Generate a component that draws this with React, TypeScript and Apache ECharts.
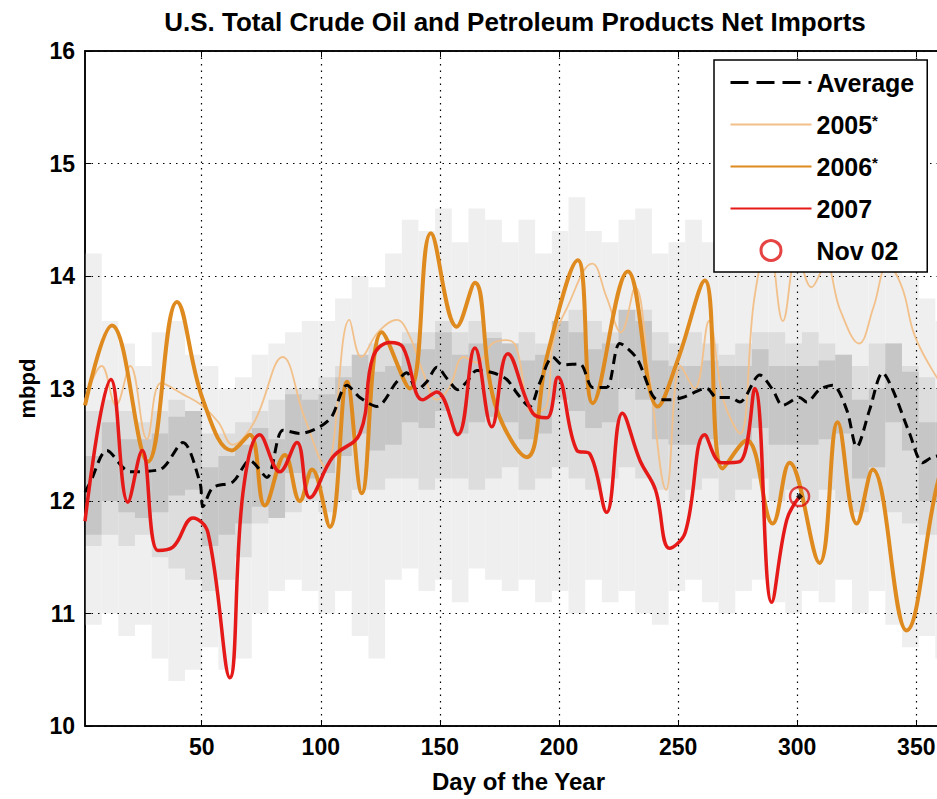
import React, { useEffect, useRef } from "react";
import * as echarts from "echarts";

const FONT = "'Liberation Sans', Arial, Helvetica, sans-serif";

const TITLE = "U.S. Total Crude Oil and Petroleum Products Net Imports";
const xTicks = [50, 100, 150, 200, 250, 300, 350];

// Average (black dashed) [day, mbpd]
const avgData = [
  [1, 12.08], [3.1, 12.16], [10.2, 12.45], [19.9, 12.26], [32.5, 12.28], [42.1, 12.52],
  [49.3, 12.16], [50.5, 11.95], [54.7, 12.12], [63.1, 12.17], [70.2, 12.36], [77.4, 12.21],
  [84.1, 12.63], [91.2, 12.6], [99.6, 12.66], [104.6, 12.75], [111, 13.03], [116.4, 12.92],
  [123.5, 12.84], [131.9, 13.06], [136.1, 13.14], [140.3, 12.99], [144.5, 13.06], [148.7, 13.19],
  [153.3, 13.08], [157.5, 12.99], [161.3, 13.06], [165.5, 13.16], [172.2, 13.14], [178.1, 13.08],
  [182.3, 12.96], [187.7, 12.84], [191.9, 13.05], [197.4, 13.28], [201.6, 13.21], [208.7, 13.22],
  [214.2, 13.01], [220, 13.01], [225.5, 13.4], [232.6, 13.27], [241.5, 12.9], [246.5, 12.9],
  [251.9, 12.92], [262, 13.0], [266.2, 12.92], [271.7, 12.92], [275.9, 12.88], [284.3, 13.12],
  [289.7, 12.99], [293.9, 12.85], [301, 12.92], [304, 12.88], [309.4, 12.99], [314.9, 13.03],
  [320.8, 12.81], [325, 12.48], [330.4, 12.81], [335.9, 13.14], [340.1, 12.99], [347.2, 12.6],
  [352.7, 12.34], [356.8, 12.39], [365, 12.42],
];

// 2005 (thin tan)
const y2005 = [
  [1, 12.9], [8, 13.2], [14, 12.85], [20, 13.2], [27, 12.55], [33, 13.05], [42, 12.95],
  [50, 12.85], [57, 12.7], [63, 12.5], [72, 12.7], [84, 13.28], [93, 12.75], [102, 12.3],
  [112, 13.61], [117, 13.28], [124, 13.5], [131.9, 13.61], [137.4, 13.46], [143, 13.14],
  [148.7, 12.9], [154, 13.01], [160, 13.28], [165.5, 13.23], [172, 13.4], [178, 13.43],
  [182, 13.37], [189, 12.78], [194.9, 12.85], [197.4, 13.4], [203, 13.7], [214, 14.11],
  [220, 13.81], [226, 13.5], [232, 13.9], [238, 13.1], [245, 12.1], [251, 13.2], [257, 13.0],
  [263, 13.6], [269, 12.9], [276, 12.6], [282, 13.8], [288, 14.3], [294, 13.6], [300, 14.2],
  [306, 13.9], [312, 14.1], [318, 13.7], [326, 13.4], [332, 13.72], [338, 14.1], [344, 13.9],
  [349, 13.49], [356, 13.19], [365, 12.9],
];

// 2006 (thick orange)
const y2006 = [
  [1, 12.85], [12.3, 13.56], [27.4, 12.35], [39.6, 13.77], [50.5, 12.9], [62.7, 12.45],
  [70.2, 12.59], [76.5, 11.96], [84.9, 12.41], [91.2, 12.0], [96.3, 12.28], [103.8, 11.77],
  [111, 13.06], [117.2, 12.07], [125.6, 13.5], [137.4, 13.0], [146.2, 14.38], [157.1, 13.55],
  [164.7, 13.94], [173, 12.87], [186.5, 12.39], [194.9, 13.28], [207.9, 14.14], [214.2, 12.87],
  [228.9, 14.04], [241.5, 12.84], [249.8, 13.25], [261.2, 13.96], [268.7, 12.29], [278.8, 12.54],
  [289.7, 11.8], [296.8, 12.34], [309.4, 11.45], [317, 12.7], [325, 11.8], [331.7, 12.28],
  [345.9, 10.85], [358.5, 12.12], [365, 12.6],
];

// 2007 (thick red)
const y2007 = [
  [1, 11.82], [11.9, 13.08], [19, 11.99], [25, 12.45], [31.6, 11.56], [37.9, 11.59],
  [46.3, 11.85], [52.6, 11.72], [61.8, 10.43], [67.3, 12.07], [74.4, 12.59], [82.8, 12.26],
  [90, 12.52], [95.4, 12.03], [105, 12.39], [116.4, 12.6], [121.9, 13.28], [129, 13.41],
  [134.4, 13.37], [142.8, 12.9], [148.7, 12.97], [157.5, 12.59], [164.7, 13.36], [171.8, 12.66],
  [178.5, 13.31], [189, 12.78], [194.9, 12.74], [199.5, 13.1], [207.5, 12.45], [212.9, 12.42],
  [220, 11.9], [226.6, 12.78], [234, 12.36], [240.5, 12.1], [246.4, 11.58], [253, 11.72],
  [261.2, 12.59], [268.3, 12.34], [275.9, 12.35], [282.2, 13.0], [289.3, 11.1], [295.6, 11.83],
  [301, 12.04],
];

const nov02 = [[301, 12.04]];

// Background distribution of past years (weekly columns)
const bandDays = [1, 8, 15, 22, 29, 36, 43, 50, 57, 64, 71, 78, 85, 92, 99, 106, 113, 120, 127, 134, 141, 148, 155, 162, 169, 176, 183, 190, 197, 204, 211, 218, 225, 232, 239, 246, 253, 260, 267, 274, 281, 288, 295, 302, 309, 316, 323, 330, 337, 344, 351, 358];
const outerLo = [10.9, 11.0, 10.8, 10.9, 10.6, 10.4, 10.5, 10.7, 10.5, 10.6, 11.0, 11.2, 11.3, 11.2, 11.0, 11.2, 10.8, 10.6, 11.3, 11.4, 11.2, 11.3, 11.1, 11.4, 11.3, 11.2, 11.3, 11.1, 11.2, 11.0, 11.3, 11.1, 11.2, 11.0, 10.9, 11.2, 11.3, 11.1, 11.0, 11.2, 11.3, 11.1, 11.0, 11.2, 11.1, 11.3, 11.0, 11.2, 10.9, 10.7, 10.8, 10.6];
const outerHi = [14.2, 13.6, 13.4, 13.2, 13.5, 13.6, 13.3, 13.2, 13.0, 13.1, 13.3, 13.4, 13.5, 13.6, 13.6, 13.8, 14.0, 13.9, 14.2, 14.5, 14.4, 14.6, 14.3, 14.6, 14.5, 14.3, 14.5, 14.2, 14.4, 14.7, 14.4, 14.3, 14.5, 14.6, 14.2, 14.3, 14.5, 14.3, 14.1, 14.4, 14.3, 14.5, 14.2, 14.4, 14.6, 14.3, 14.1, 14.4, 14.2, 14.0, 13.8, 13.6];
const innerLo = [11.6, 11.7, 11.6, 11.7, 11.5, 11.4, 11.3, 11.2, 11.3, 11.5, 11.8, 11.9, 11.9, 12.0, 11.9, 12.0, 12.1, 12.1, 12.2, 12.2, 12.1, 12.2, 12.2, 12.1, 12.2, 12.3, 12.1, 12.2, 12.3, 12.2, 12.1, 12.2, 12.3, 12.2, 12.1, 12.0, 12.1, 12.2, 12.0, 12.1, 12.2, 12.0, 12.1, 12.0, 12.1, 12.0, 11.9, 12.0, 11.9, 11.8, 11.7, 11.7];
const innerHi = [12.8, 12.9, 12.8, 12.7, 12.8, 12.9, 12.8, 12.6, 12.6, 12.7, 12.8, 12.9, 13.0, 13.0, 13.1, 13.2, 13.3, 13.4, 13.4, 13.5, 13.5, 13.6, 13.5, 13.6, 13.5, 13.4, 13.5, 13.4, 13.6, 13.7, 13.6, 13.5, 13.6, 13.7, 13.5, 13.4, 13.5, 13.4, 13.3, 13.4, 13.5, 13.5, 13.4, 13.5, 13.4, 13.3, 13.2, 13.4, 13.4, 13.2, 13.1, 13.0];
const coreLo = [11.7, 12.0, 11.9, 11.85, 11.9, 12.05, 12.1, 11.6, 11.7, 11.8, 11.95, 11.85, 12.25, 12.2, 12.25, 12.4, 12.6, 12.45, 12.5, 12.7, 12.65, 12.8, 12.6, 12.7, 12.75, 12.7, 12.55, 12.6, 12.9, 12.8, 12.65, 12.7, 13.0, 12.9, 12.55, 12.5, 12.5, 12.55, 12.5, 12.5, 12.65, 12.5, 12.5, 12.5, 12.55, 12.6, 12.2, 12.3, 12.7, 12.45, 12.0, 12.0];
const coreHi = [12.4, 12.7, 12.55, 12.55, 12.6, 12.75, 12.8, 12.3, 12.4, 12.5, 12.65, 12.55, 12.95, 12.9, 12.95, 13.1, 13.3, 13.15, 13.2, 13.4, 13.35, 13.5, 13.3, 13.4, 13.45, 13.4, 13.25, 13.3, 13.6, 13.5, 13.35, 13.4, 13.7, 13.6, 13.25, 13.2, 13.2, 13.25, 13.2, 13.2, 13.35, 13.2, 13.2, 13.2, 13.25, 13.3, 12.9, 13.0, 13.4, 13.15, 12.7, 12.7];

const BAND_STEP = 7;

function bandSeries(lo: number[], hi: number[], color: string) {
  return {
    type: "custom",
    z: 1,
    silent: true,
    clip: true,
    encode: { x: 0, y: [1, 2] },
    data: bandDays.map((d, i) => [d, lo[i], hi[i]]),
    renderItem: (_p: any, api: any) => {
      const d0 = api.value(0);
      const p1 = api.coord([d0, api.value(2)]);
      const p2 = api.coord([d0 + BAND_STEP, api.value(1)]);
      return {
        type: "rect",
        shape: { x: p1[0], y: p1[1], width: p2[0] - p1[0], height: p2[1] - p1[1] },
        style: { fill: color },
      };
    },
  };
}

const noSymbol = { color: "rgba(0,0,0,0)", borderWidth: 0, opacity: 0 };

export default function App() {
  const ref = useRef<HTMLDivElement>(null);
  useEffect(() => {
    const chart = echarts.init(ref.current!, null, { renderer: "svg" });
    const dotted = { color: "#000", width: 1.2, type: [1.5, 5] as any };
    const option: any = {
      animation: false,
      backgroundColor: "#fff",
      title: {
        text: TITLE,
        left: 510,
        top: 4,
        textAlign: "center",
        textStyle: { fontSize: 26, fontWeight: "bold", fontFamily: FONT, color: "#000" },
      },
      grid: { left: 85, top: 51, width: 867, height: 675, show: true, borderColor: "#000", borderWidth: 1.5, backgroundColor: "transparent" },
      legend: {
        data: [
          { name: "Average", itemStyle: noSymbol, lineStyle: { type: [18, 8], width: 3, color: "#000" } },
          { name: "2005", itemStyle: noSymbol },
          { name: "2006", itemStyle: noSymbol },
          { name: "2007", itemStyle: noSymbol },
          { name: "Nov 02", itemStyle: { color: "transparent", borderColor: "#e01414", borderWidth: 3 } },
        ],
        orient: "vertical",
        left: 714,
        top: 60,
        itemWidth: 81,
        itemHeight: 20,
        itemGap: 17,
        padding: [10, 13, 9, 15],
        backgroundColor: "#fff",
        borderColor: "#000",
        borderWidth: 1.5,
        z: 10,
        formatter: (name: string) => (name === "2005" || name === "2006" ? `{n|${name}}{s|*}` : `{n|${name}}`),
        textStyle: {
          color: "#000",
          fontSize: 25,
          fontWeight: "bold",
          fontFamily: FONT,
          rich: {
            n: { fontSize: 25, fontWeight: "bold", fontFamily: FONT, lineHeight: 24, color: "#000" },
            s: { fontSize: 15, fontWeight: "bold", fontFamily: FONT, verticalAlign: "top", lineHeight: 12, color: "#000" },
          },
        },
      },
      xAxis: [
        {
          type: "value",
          min: 1,
          max: 365,
          z: 2,
          name: "Day of the Year",
          nameLocation: "middle",
          nameGap: 43,
          nameTextStyle: { fontSize: 24, fontWeight: "bold", fontFamily: FONT, color: "#000" },
          axisLine: { show: true, lineStyle: { color: "#000", width: 1.5 } },
          axisTick: { show: true, inside: true, length: 6, customValues: xTicks, lineStyle: { color: "#000" } },
          axisLabel: { customValues: xTicks, fontSize: 23, fontWeight: "bold", fontFamily: FONT, color: "#000", margin: 9 },
          splitLine: { show: true, lineStyle: dotted },
        },
        {
          type: "value",
          position: "top",
          min: 1,
          max: 365,
          z: 2,
          axisLine: { show: true, onZero: false, lineStyle: { color: "#000", width: 1.5 } },
          axisTick: { show: true, inside: true, length: 6, customValues: xTicks, lineStyle: { color: "#000" } },
          axisLabel: { show: false },
          splitLine: { show: false },
        },
      ],
      yAxis: {
        type: "value",
        min: 10,
        max: 16,
        interval: 1,
        z: 2,
        name: "mbpd",
        nameLocation: "middle",
        nameGap: 44,
        nameTextStyle: { fontSize: 22, fontWeight: "bold", fontFamily: FONT, color: "#000" },
        axisLine: { show: true, lineStyle: { color: "#000", width: 1.5 } },
        axisTick: { show: true, inside: true, length: 6, lineStyle: { color: "#000" } },
        axisLabel: { fontSize: 23, fontWeight: "bold", fontFamily: FONT, color: "#000", margin: 10 },
        splitLine: { show: true, lineStyle: dotted },
      },
      series: [
        bandSeries(outerLo, outerHi, "#efefef"),
        bandSeries(innerLo, innerHi, "#dddddd"),
        bandSeries(coreLo, coreHi, "#c6c6c6"),
        {
          name: "2005",
          type: "line",
          z: 3,
          data: y2005,
          smooth: 0.4,
          symbol: "none",
          lineStyle: { color: "#f2c08a", width: 1.8 },
          itemStyle: { color: "#f2c08a" },
        },
        {
          name: "2006",
          type: "line",
          z: 3,
          data: y2006,
          smooth: 0.4,
          symbol: "none",
          lineStyle: { color: "#de8a1e", width: 4 },
          itemStyle: { color: "#de8a1e" },
        },
        {
          name: "Average",
          type: "line",
          z: 3,
          data: avgData,
          smooth: 0.3,
          symbol: "none",
          lineStyle: { color: "#000", width: 3, type: [10, 6] },
          itemStyle: { color: "#000" },
        },
        {
          name: "2007",
          type: "line",
          z: 3,
          data: y2007,
          smooth: 0.4,
          symbol: "none",
          lineStyle: { color: "#e61919", width: 3.5 },
          itemStyle: { color: "#e61919" },
        },
        {
          name: "Nov 02",
          type: "scatter",
          z: 4,
          data: nov02,
          symbol: "circle",
          symbolSize: 19,
          itemStyle: { color: "transparent", borderColor: "#e01414", borderWidth: 2.5 },
        },
        {
          name: "marker",
          type: "scatter",
          z: 4,
          data: nov02,
          symbol: "diamond",
          symbolSize: 7,
          itemStyle: { color: "#000" },
        },
      ],
    };
    chart.setOption(option);
    return () => chart.dispose();
  }, []);
  return (
    <div
      ref={ref}
      style={{ position: "fixed", left: 0, top: 0, width: 960, height: 799, background: "#fff" }}
    />
  );
}
